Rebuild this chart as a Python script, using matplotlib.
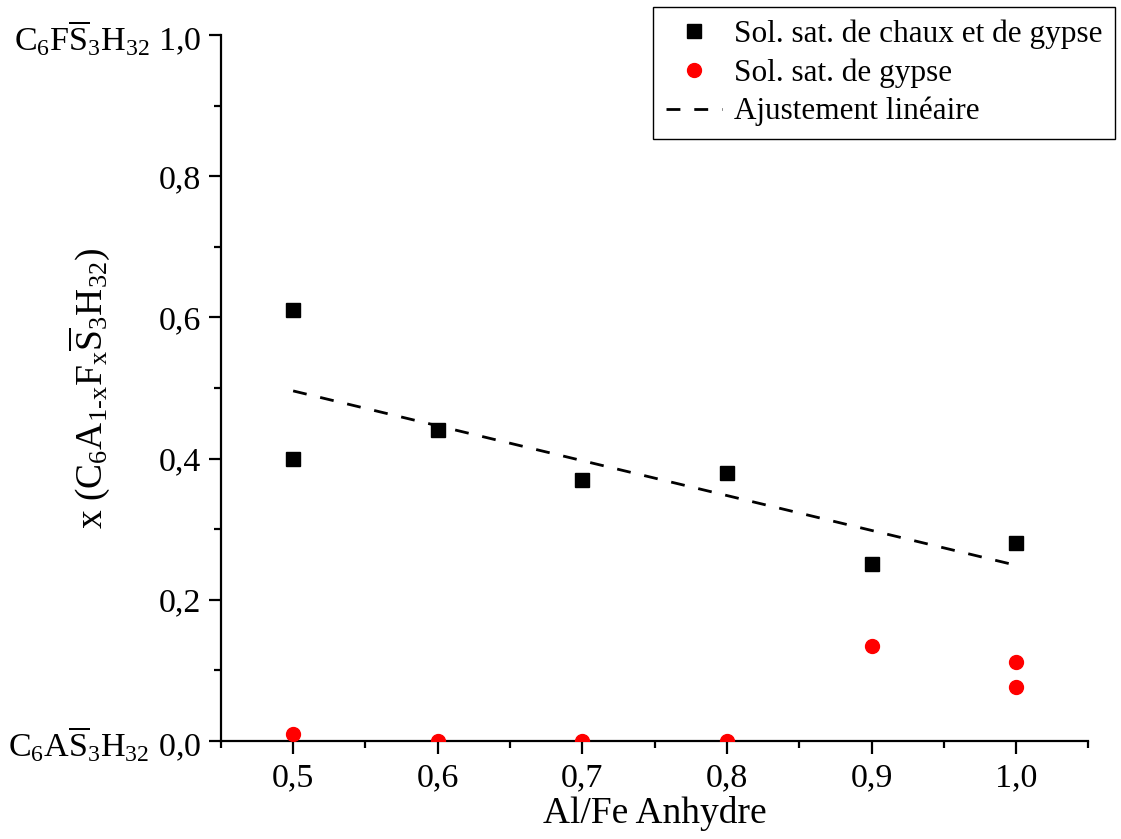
import numpy as np
import matplotlib
matplotlib.use("Agg")
import matplotlib.pyplot as plt
from matplotlib.ticker import MultipleLocator

plt.rcParams["font.family"] = ["Liberation Serif", "DejaVu Serif"]
plt.rcParams["mathtext.fontset"] = "custom"
plt.rcParams["mathtext.rm"] = "Liberation Serif"
plt.rcParams["mathtext.it"] = "Liberation Serif"
plt.rcParams["mathtext.default"] = "rm"

# Solution saturee de chaux et de gypse
x_chaux = [0.5, 0.5, 0.6, 0.7, 0.8, 0.9, 1.0]
y_chaux = [0.61, 0.40, 0.44, 0.37, 0.38, 0.25, 0.28]

# Solution saturee de gypse
x_gypse = [0.5, 0.6, 0.7, 0.8, 0.9, 1.0, 1.0]
y_gypse = [0.01, 0.0, 0.0, 0.0, 0.134, 0.112, 0.076]

x_ticks = [0.5, 0.6, 0.7, 0.8, 0.9, 1.0]
y_ticks = [0.0, 0.2, 0.4, 0.6, 0.8, 1.0]
y_ticklabels = [r"C$_6$A$\overline{S}_3$H$_{32}$ 0,0", "0,2", "0,4", "0,6", "0,8",
                r"C$_6$F$\overline{S}_3$H$_{32}$ 1,0"]

# ajustement lineaire sur la serie chaux + gypse
slope, intercept = np.polyfit(x_chaux, y_chaux, 1)
x_fit = np.array([0.5, 1.0])
y_fit = slope * x_fit + intercept

fig = plt.figure(figsize=(11.21, 8.39), dpi=100)
ax = fig.add_axes([0.197, 0.117, 0.774, 0.841])

ax.plot(x_chaux, y_chaux, "s", color="black", markersize=10, linestyle="none",
        label="Sol. sat. de chaux et de gypse", zorder=3)
ax.plot(x_gypse, y_gypse, "o", color="red", markersize=10, linestyle="none",
        label="Sol. sat. de gypse", zorder=3)
ax.plot(x_fit, y_fit, color="black", linewidth=2, dashes=(5, 5),
        label="Ajustement linéaire")

ax.set_xlim(0.45, 1.05)
ax.set_ylim(0.0, 1.0)
ax.set_xticks(x_ticks)
ax.set_xticklabels([f"{v:.1f}".replace(".", ",") for v in x_ticks])
ax.xaxis.set_minor_locator(MultipleLocator(0.05))
ax.set_yticks(y_ticks)
ax.set_yticklabels(y_ticklabels)
ax.yaxis.set_minor_locator(MultipleLocator(0.1))

for side in ["top", "right"]:
    ax.spines[side].set_visible(False)
for side in ["left", "bottom"]:
    ax.spines[side].set_linewidth(1.6)

ax.tick_params(which="major", direction="out", length=9, width=1.6, labelsize=24.5, pad=5)
ax.tick_params(axis="x", which="major", pad=7)
ax.tick_params(which="minor", direction="out", length=5, width=1.6)

ax.set_xlabel("Al/Fe Anhydre", fontsize=27, labelpad=2)
ax.set_ylabel(r"x (C$_6$A$_{1\text{-}x}$F$_x\overline{S}_3$H$_{32}$)", fontsize=27)
ax.yaxis.set_label_coords(-0.125, 0.5)

leg = ax.legend(loc="upper right", bbox_to_anchor=(0.995, 0.992),
                bbox_transform=fig.transFigure, fontsize=22.5, frameon=True,
                fancybox=False, framealpha=1, edgecolor="black",
                handlelength=1.8, handletextpad=0.4, borderpad=0.4,
                labelspacing=0.3, borderaxespad=0)
leg.get_frame().set_linewidth(1.0)

fig.savefig("out.png", dpi=100)
